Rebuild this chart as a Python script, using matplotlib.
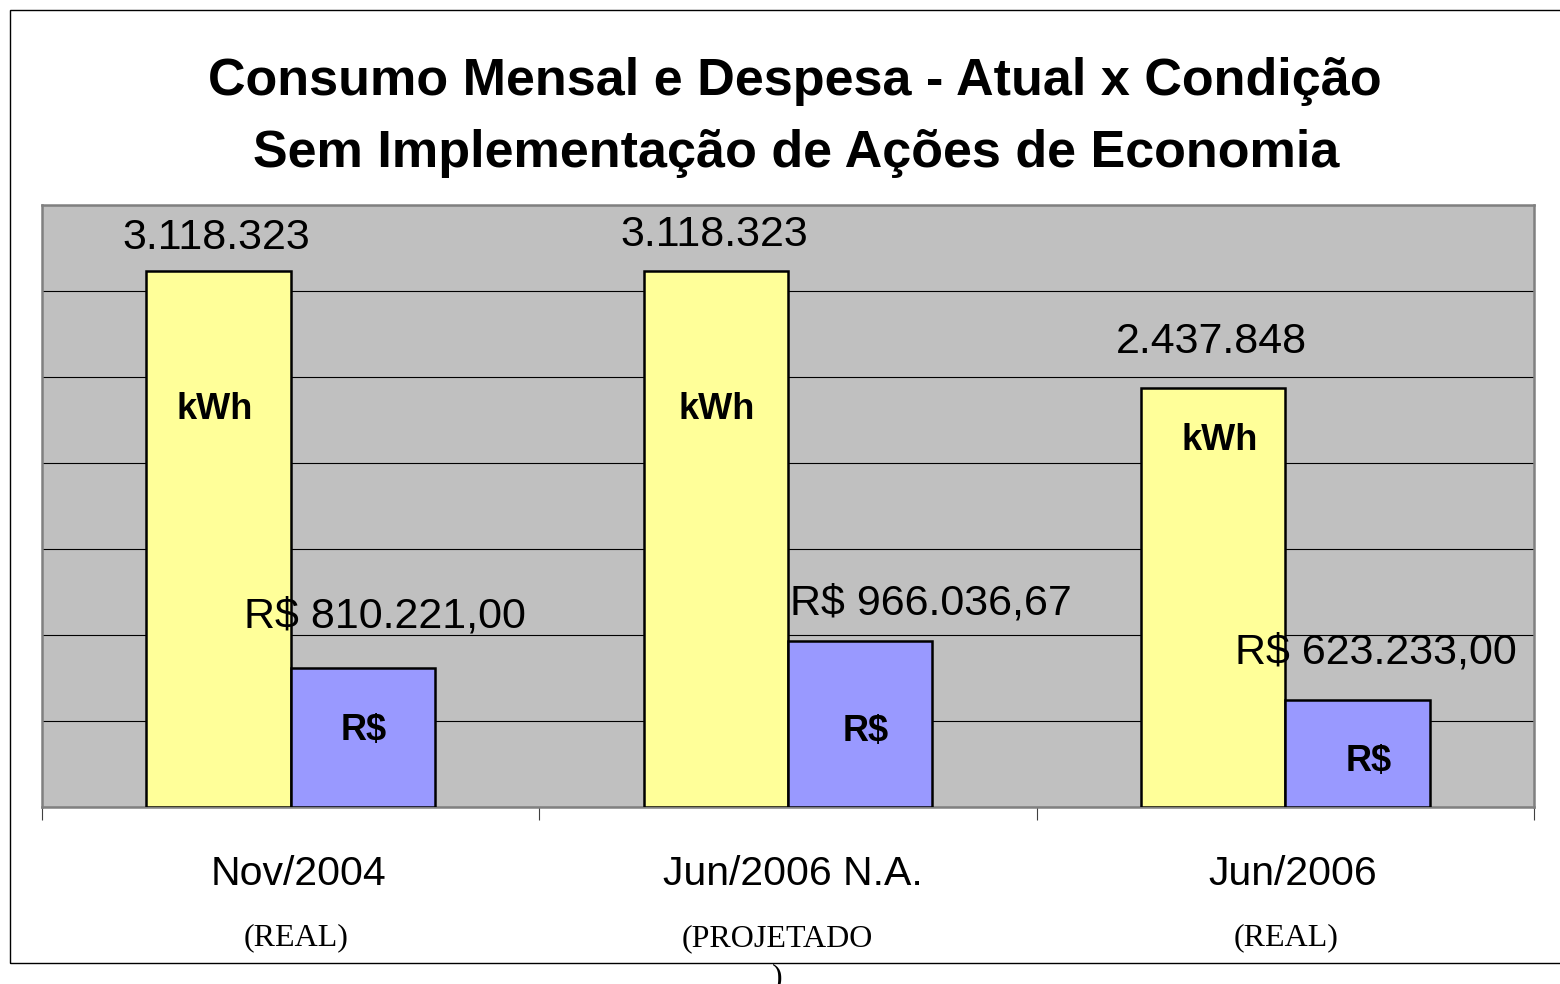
import matplotlib.pyplot as plt
from matplotlib.patches import Rectangle
import numpy as np

plt.rcParams['font.family'] = ['Liberation Sans', 'DejaVu Sans']

# data
categorias = ['Nov/2004', 'Jun/2006 N.A.', 'Jun/2006']
subtitulos = ['(REAL)', '(PROJETADO\n)', '(REAL)']
kwh = [3118323, 3118323, 2437848]
reais = [810221.00, 966036.67, 623233.00]
kwh_txt = ['3.118.323', '3.118.323', '2.437.848']
reais_txt = ['R$ 810.221,00', 'R$ 966.036,67', 'R$ 623.233,00']

W, H = 1560, 984
fig = plt.figure(figsize=(W / 100, H / 100), dpi=100)
fig.patch.set_facecolor('white')

# outer frame (right side runs off the picture)
fig.add_artist(Rectangle((10 / W, 1 - 963 / H), 1.0, (963 - 10) / H,
                         transform=fig.transFigure, fill=False,
                         edgecolor='black', lw=1.0))

ax = fig.add_axes([42 / W, 1 - 807 / H, (1534 - 42) / W, (807 - 205) / H])
ax.set_facecolor('#C0C0C0')

x = np.arange(len(categorias))
larg = 0.29
ax.bar(x - larg / 2, kwh, larg, color='#FFFF99', edgecolor='black', lw=1.8, zorder=3)
ax.bar(x + larg / 2, reais, larg, color='#9999FF', edgecolor='black', lw=1.8, zorder=3)

ax.set_xlim(-0.5, 2.5)
ax.set_ylim(0, 3500000)
ax.set_yticks(np.arange(0, 3500001, 500000))
ax.set_yticklabels([])
ax.tick_params(axis='y', length=0)
ax.yaxis.grid(True, color='black', lw=0.8, zorder=1)
ax.set_axisbelow(True)

ax.set_xticks([-0.5, 0.5, 1.5, 2.5])
ax.set_xticklabels([])
ax.tick_params(axis='x', length=9, width=0.8, color='#404040', direction='out')

for s in ax.spines.values():
    s.set_color('#808080')
    s.set_linewidth(1.8)

# value labels above the bars
dy_kwh = [33, 36, 46]
dy_rs = [51, 37, 47]
dx_rs = [22, 71, 18]
for i in range(len(categorias)):
    ax.annotate(kwh_txt[i], (x[i] - larg / 2, kwh[i]), xytext=(-2, dy_kwh[i]),
                textcoords='offset pixels', ha='center', va='center', fontsize=31)
    ax.annotate(reais_txt[i], (x[i] + larg / 2, reais[i]), xytext=(dx_rs[i], dy_rs[i]),
                textcoords='offset pixels', ha='center', va='center', fontsize=31,
                zorder=5)

# labels inside the bars
dy_in_kwh = [-139, -139, -53]
dy_in_rs = [-63, -91, -62]
dx_in_kwh = [-4, 1, 6]
dx_in_rs = [1, 6, 11]
for i in range(len(categorias)):
    ax.annotate('kWh', (x[i] - larg / 2, kwh[i]), xytext=(dx_in_kwh[i], dy_in_kwh[i]),
                textcoords='offset pixels', ha='center', va='center',
                fontsize=26, fontweight='bold', zorder=5)
    ax.annotate('R$', (x[i] + larg / 2, reais[i]), xytext=(dx_in_rs[i], dy_in_rs[i]),
                textcoords='offset pixels', ha='center', va='center',
                fontsize=26, fontweight='bold', zorder=5)

# category labels
dx_cat = [8, 5, 7]
dx_sub = [5, -11, 1]
for i in range(len(categorias)):
    ax.annotate(categorias[i], (x[i], 0), xycoords=('data', 'axes fraction'),
                xytext=(dx_cat[i], -67), textcoords='offset pixels',
                ha='center', va='center', fontsize=29.5, annotation_clip=False)
    # baseline of the last line; each extra line sits 40 px lower
    n_extra = subtitulos[i].count('\n')
    ax.annotate(subtitulos[i], (x[i], 0), xycoords=('data', 'axes fraction'),
                xytext=(dx_sub[i], -138 - 40 * n_extra), textcoords='offset pixels',
                ha='center', va='baseline', multialignment='center',
                fontsize=23, family=['Liberation Serif', 'DejaVu Serif'],
                linespacing=1.46, annotation_clip=False)

fig.text(795 / W, 1 - 81 / H, 'Consumo Mensal e Despesa - Atual x Condição',
         ha='center', va='center', fontsize=37.5, fontweight='bold')
fig.text(796 / W, 1 - 154 / H, 'Sem Implementação de Ações de Economia',
         ha='center', va='center', fontsize=37.5, fontweight='bold')

fig.savefig('out.png', dpi=100)
